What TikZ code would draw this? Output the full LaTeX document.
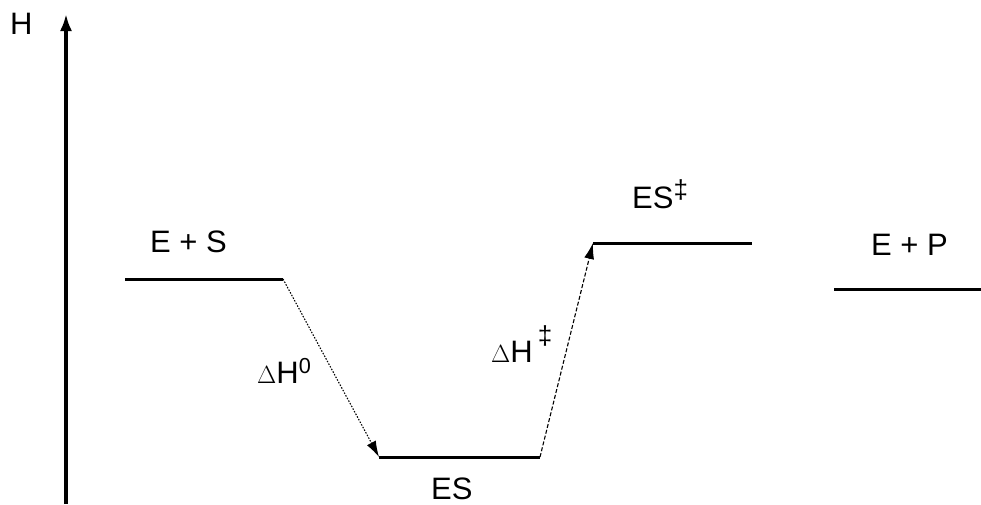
\documentclass[tikz,border=0pt]{standalone}
\usepackage{fontspec}
\setmainfont{Liberation Sans}
\usetikzlibrary{arrows.meta}
\begin{document}
\begin{tikzpicture}[x=1pt,y=-1pt,every node/.style={font=\fontsize{31}{36}\selectfont,inner sep=0pt,anchor=base west},
level/.style={line width=3pt},jump/.style={line width=1.1pt,-{Latex[length=16pt,width=10pt]}}]
\useasboundingbox (0,0) rectangle (981,504);
% axis
\coordinate (a0) at (66,504);\coordinate (a1) at (66,14);
\draw[line width=3.2pt,-{Latex[length=17pt,width=12pt]}] (a0)--(a1);
\node (h) at (10,34) {H};
% levels
\coordinate (es1) at (125,279);\coordinate (es2) at (283,279);
\coordinate (c1) at (379,457);\coordinate (c2) at (540,457);
\coordinate (t1) at (593,243);\coordinate (t2) at (752,243);
\coordinate (p1) at (834,289);\coordinate (p2) at (981,289);
\draw[level] (es1)--(es2) (c1)--(c2) (t1)--(t2) (p1)--(p2);
\draw[jump,dash pattern=on 1.5pt off 1.5pt] (es2)--(c1);
\draw[jump,dash pattern=on 4pt off 2pt] (c2)--(t1);
% labels
\node (lES) at (150,252) {E + S};\node (lC) at (431,499) {ES};
\node (lT) at (632,208) {ES\raisebox{.3em}{\fontsize{26}{26}\selectfont\ddag}};\node (lP) at (871,255) {E + P};
\node (d0) at (257,383) {$\Delta$H\textsuperscript{0}};\node (d1) at (491,362) {$\Delta$H\,\raisebox{.55em}{\fontsize{26}{26}\selectfont\ddag}};
\end{tikzpicture}
\end{document}
